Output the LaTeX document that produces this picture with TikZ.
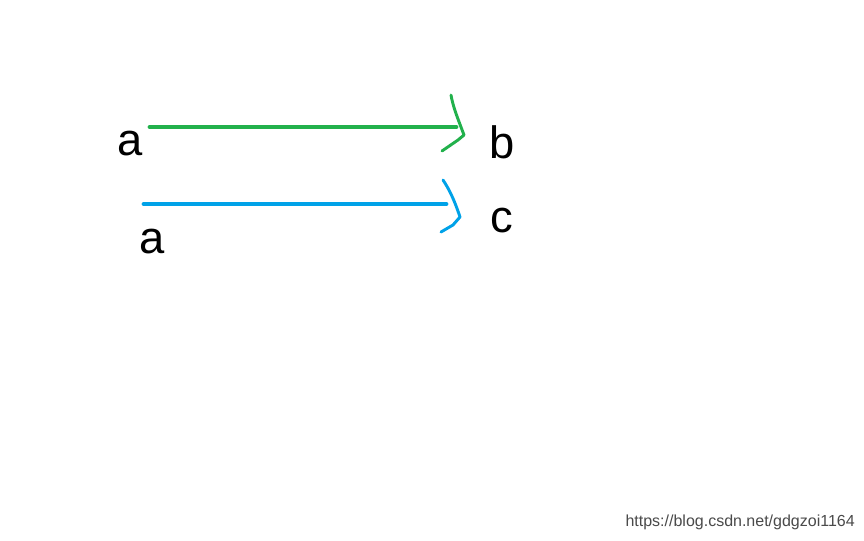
\documentclass[tikz,border=0pt]{standalone}
\usepackage{fontspec}
\setmainfont{Liberation Sans}
\usetikzlibrary{calc}
\definecolor{pgreen}{HTML}{22B14C}
\definecolor{pblue}{HTML}{00A2E8}
\definecolor{wm}{HTML}{4A4A4A}
\begin{document}
\begin{tikzpicture}[x=0.75pt,y=-0.75pt,
  letter/.style={font=\fontsize{34}{36}\selectfont, inner sep=0pt, anchor=base},
  shaft/.style={line width=3.6pt, line cap=round},
  arrowtip/.style={line width=2.2pt, line cap=round, line join=round},
  wmstyle/.style={font=\fontsize{12}{14}\selectfont, text=wm, inner sep=0pt}]
\useasboundingbox[fill=white] (0,0) rectangle (864,540);
% letters
\node[letter] (a1) at (130,155) {a};
\node[letter] (b) at (502,158) {b};
\node[letter] (a2) at (152,253) {a};
\node[letter] (c) at (502,232) {c};
% line ends
\coordinate (g0) at (150,127);
\coordinate (g1) at (456,127);
\coordinate (u0) at (144,204);
\coordinate (u1) at (446,204);
% green arrow
\draw[shaft, pgreen] (g0) -- (g1);
\draw[arrowtip, pgreen] ($(g1)+(-5,-32)$) .. controls ($(g1)+(-3,-20)$) and ($(g1)+(2,-8)$) .. ($(g1)+(8,8)$) -- ($(g1)+(2,13)$) -- ($(g1)+(-14,24)$);
% blue arrow
\draw[shaft, pblue] (u0) -- (u1);
\draw[arrowtip, pblue] ($(u1)+(-3,-24)$) .. controls ($(u1)+(3,-15)$) and ($(u1)+(8,-5)$) .. ($(u1)+(14,13)$) -- ($(u1)+(7,21)$) -- ($(u1)+(-5,28)$);
% watermark
\node[wmstyle, anchor=base east] (wmark) at (855,526) {https://blog.csdn.net/gdgzoi1164};
\end{tikzpicture}
\end{document}
